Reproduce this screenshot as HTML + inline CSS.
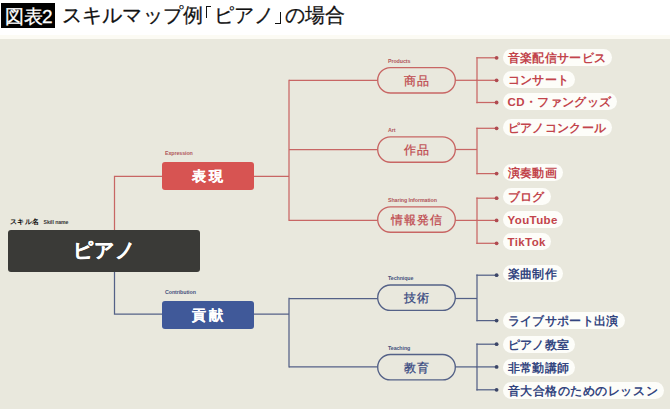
<!DOCTYPE html>
<html><head><meta charset="utf-8"><style>
html,body{margin:0;padding:0}
body{width:670px;height:409px;position:relative;overflow:hidden;background:#fff;font-family:"Liberation Sans",sans-serif}
.bg{position:absolute;left:0;top:38.5px;width:670px;height:371px;background:#E9E8DD}
.bg2{position:absolute;left:0;top:35px;width:670px;height:4px;background:#FCFBF4}
.tag{position:absolute;left:1px;top:3px;width:54px;height:25px;background:#000;color:#fff;font-size:19px;line-height:27px;text-indent:4px;letter-spacing:-0.5px;-webkit-text-stroke:0.3px #fff}
.title{position:absolute;top:3px;font-size:20px;letter-spacing:0.3px;line-height:25px;color:#111;white-space:nowrap;-webkit-text-stroke:0.25px #111}
svg{position:absolute;left:0;top:0}
.box{position:absolute;left:162px;width:92px;height:28px;border-radius:3px;color:#fff;font-weight:bold;font-size:14px;line-height:28px;text-align:center;letter-spacing:3px;text-indent:1px;-webkit-text-stroke:0.2px #fff}
.dark{position:absolute;left:8px;top:230px;width:192px;height:41.5px;border-radius:3px;background:#3A3A37;color:#fff;font-weight:bold;font-size:20px;line-height:41px;text-align:center;letter-spacing:1px;-webkit-text-stroke:0.3px #fff}
.mid{position:absolute;left:377px;width:79px;height:27px;line-height:27px;text-align:center;font-size:12.2px;letter-spacing:1px;text-indent:1px;font-weight:normal;-webkit-text-stroke:0.25px currentColor}
.sub{position:absolute;font-size:5.3px;line-height:7px;white-space:nowrap;font-weight:bold;letter-spacing:-0.08px}
.leaf{position:absolute;left:502.5px;height:17px;line-height:18.4px;border-radius:8.5px;background:#FDFDF9;padding:0 6px 0 5px;font-size:11.5px;font-weight:bold;white-space:nowrap;letter-spacing:0.35px}
.r{color:#C2444B} .b{color:#33457F}
</style></head><body>
<div class="bg2"></div><div class="bg"></div>
<div class="tag">図表2</div>
<div class="title" style="left:61.5px">スキルマップ例</div><div class="title" style="left:213.5px">ピアノ</div><div class="title" style="left:284.5px">の場合</div>
<div style="position:absolute;left:206.1px;top:6.1px;width:4.4px;height:11.4px;border-left:1.4px solid #111;border-top:1.4px solid #111"></div>
<div style="position:absolute;left:275px;top:12.2px;width:4.6px;height:11px;border-right:1.4px solid #111;border-bottom:1.4px solid #111"></div>
<svg width="670" height="409" viewBox="0 0 670 409"><path d="M162 176.4H114.5V230" stroke="#C86664" stroke-width="1.25" fill="none" stroke-linecap="butt"/><path d="M254 176.4H289" stroke="#C86664" stroke-width="1.25" fill="none" stroke-linecap="butt"/><path d="M289 79.7V221.1" stroke="#C86664" stroke-width="1.25" fill="none" stroke-linecap="butt"/><path d="M114.5 271.5V314.1H162" stroke="#546187" stroke-width="1.25" fill="none" stroke-linecap="butt"/><path d="M254 314.1H289" stroke="#546187" stroke-width="1.25" fill="none" stroke-linecap="butt"/><path d="M289 297.8V367.6" stroke="#546187" stroke-width="1.25" fill="none" stroke-linecap="butt"/><path d="M289 80.3H378" stroke="#C86664" stroke-width="1.25" fill="none" stroke-linecap="butt"/><path d="M455 80.3H477" stroke="#C86664" stroke-width="1.25" fill="none" stroke-linecap="butt"/><path d="M289 149.5H378" stroke="#C86664" stroke-width="1.25" fill="none" stroke-linecap="butt"/><path d="M455 149.5H477" stroke="#C86664" stroke-width="1.25" fill="none" stroke-linecap="butt"/><path d="M289 220.4H378" stroke="#C86664" stroke-width="1.25" fill="none" stroke-linecap="butt"/><path d="M455 220.4H477" stroke="#C86664" stroke-width="1.25" fill="none" stroke-linecap="butt"/><path d="M289 298.5H378" stroke="#546187" stroke-width="1.25" fill="none" stroke-linecap="butt"/><path d="M455 298.5H477" stroke="#546187" stroke-width="1.25" fill="none" stroke-linecap="butt"/><path d="M289 366.9H378" stroke="#546187" stroke-width="1.25" fill="none" stroke-linecap="butt"/><path d="M455 366.9H477" stroke="#546187" stroke-width="1.25" fill="none" stroke-linecap="butt"/><path d="M477 57.8V102.5" stroke="#C86664" stroke-width="1.25" fill="none" stroke-linecap="square"/><path d="M477 128.3V173.6" stroke="#C86664" stroke-width="1.25" fill="none" stroke-linecap="square"/><path d="M477 198.2V243.3" stroke="#C86664" stroke-width="1.25" fill="none" stroke-linecap="square"/><path d="M477 275.2V320.6" stroke="#546187" stroke-width="1.25" fill="none" stroke-linecap="square"/><path d="M477 344.2V389.8" stroke="#546187" stroke-width="1.25" fill="none" stroke-linecap="square"/><path d="M477 57.8H496" stroke="#C86664" stroke-width="1.25" fill="none" stroke-linecap="square"/><circle cx="496.6" cy="57.8" r="1.9" fill="#B04A50"/><path d="M477 80.3H496" stroke="#C86664" stroke-width="1.25" fill="none" stroke-linecap="square"/><circle cx="496.6" cy="80.3" r="1.9" fill="#B04A50"/><path d="M477 102.5H496" stroke="#C86664" stroke-width="1.25" fill="none" stroke-linecap="square"/><circle cx="496.6" cy="102.5" r="1.9" fill="#B04A50"/><path d="M477 128.3H496" stroke="#C86664" stroke-width="1.25" fill="none" stroke-linecap="square"/><circle cx="496.6" cy="128.3" r="1.9" fill="#B04A50"/><path d="M477 173.6H496" stroke="#C86664" stroke-width="1.25" fill="none" stroke-linecap="square"/><circle cx="496.6" cy="173.6" r="1.9" fill="#B04A50"/><path d="M477 198.2H496" stroke="#C86664" stroke-width="1.25" fill="none" stroke-linecap="square"/><circle cx="496.6" cy="198.2" r="1.9" fill="#B04A50"/><path d="M477 220.4H496" stroke="#C86664" stroke-width="1.25" fill="none" stroke-linecap="square"/><circle cx="496.6" cy="220.4" r="1.9" fill="#B04A50"/><path d="M477 243.3H496" stroke="#C86664" stroke-width="1.25" fill="none" stroke-linecap="square"/><circle cx="496.6" cy="243.3" r="1.9" fill="#B04A50"/><path d="M477 275.2H496" stroke="#546187" stroke-width="1.25" fill="none" stroke-linecap="square"/><circle cx="496.6" cy="275.2" r="1.9" fill="#3C4668"/><path d="M477 320.6H496" stroke="#546187" stroke-width="1.25" fill="none" stroke-linecap="square"/><circle cx="496.6" cy="320.6" r="1.9" fill="#3C4668"/><path d="M477 344.2H496" stroke="#546187" stroke-width="1.25" fill="none" stroke-linecap="square"/><circle cx="496.6" cy="344.2" r="1.9" fill="#3C4668"/><path d="M477 366.9H496" stroke="#546187" stroke-width="1.25" fill="none" stroke-linecap="square"/><circle cx="496.6" cy="366.9" r="1.9" fill="#3C4668"/><path d="M477 389.8H496" stroke="#546187" stroke-width="1.25" fill="none" stroke-linecap="square"/><circle cx="496.6" cy="389.8" r="1.9" fill="#3C4668"/><rect x="377.7" y="67.55" width="77.6" height="25.4" rx="12.7" fill="#E9E8DD" stroke="#C86664" stroke-width="1.35"/><rect x="377.7" y="136.80" width="77.6" height="25.4" rx="12.7" fill="#E9E8DD" stroke="#C86664" stroke-width="1.35"/><rect x="377.7" y="206.80" width="77.6" height="25.4" rx="12.7" fill="#E9E8DD" stroke="#C86664" stroke-width="1.35"/><rect x="377.7" y="285.00" width="77.6" height="25.4" rx="12.7" fill="#E9E8DD" stroke="#546187" stroke-width="1.35"/><rect x="377.7" y="354.50" width="77.6" height="25.4" rx="12.7" fill="#E9E8DD" stroke="#546187" stroke-width="1.35"/></svg>
<div class="sub" style="left:10px;top:217.5px;font-size:7px;line-height:8px;font-weight:bold;color:#111;letter-spacing:0.4px">スキル名</div>
<div class="sub" style="left:43.5px;top:218.5px;font-size:5.2px;color:#333;font-weight:bold">Skill name</div>
<div class="dark">ピアノ</div>
<div class="sub" style="left:165px;top:150px;color:#B0555A">Expression</div>
<div class="box" style="top:162px;background:#D75452">表現</div>
<div class="sub" style="left:165px;top:289px;color:#46537E">Contribution</div>
<div class="box" style="top:300.5px;background:#405999">貢献</div>
<div class="mid" style="top:67.6px;color:#BF4A4F">商品</div><div class="sub" style="left:388px;top:57.8px;color:#B0555A">Products</div><div class="mid" style="top:136.7px;color:#BF4A4F">作品</div><div class="sub" style="left:388px;top:127.0px;color:#B0555A">Art</div><div class="mid" style="top:206.7px;color:#BF4A4F">情報発信</div><div class="sub" style="left:388px;top:197.0px;color:#B0555A">Sharing Information</div><div class="mid" style="top:285.4px;color:#36477F">技術</div><div class="sub" style="left:388px;top:275.2px;color:#46537E">Technique</div><div class="mid" style="top:354.7px;color:#36477F">教育</div><div class="sub" style="left:388px;top:344.7px;color:#46537E">Teaching</div><div class="leaf r" style="top:48.7px;">音楽配信サービス</div><div class="leaf r" style="top:71.0px;">コンサート</div><div class="leaf r" style="top:93.2px;">CD・ファングッズ</div><div class="leaf r" style="top:118.5px;">ピアノコンクール</div><div class="leaf r" style="top:163.8px;">演奏動画</div><div class="leaf r" style="top:188.1px;">ブログ</div><div class="leaf r" style="top:211.0px;letter-spacing:0.4px;padding-right:5px">YouTube</div><div class="leaf r" style="top:233.4px;letter-spacing:0.4px;padding-right:5px">TikTok</div><div class="leaf b" style="top:265.3px;">楽曲制作</div><div class="leaf b" style="top:311.5px;">ライブサポート出演</div><div class="leaf b" style="top:336.0px;">ピアノ教室</div><div class="leaf b" style="top:358.7px;">非常勤講師</div><div class="leaf b" style="top:382.0px;letter-spacing:0.55px">音大合格のためのレッスン</div>
</body></html>
